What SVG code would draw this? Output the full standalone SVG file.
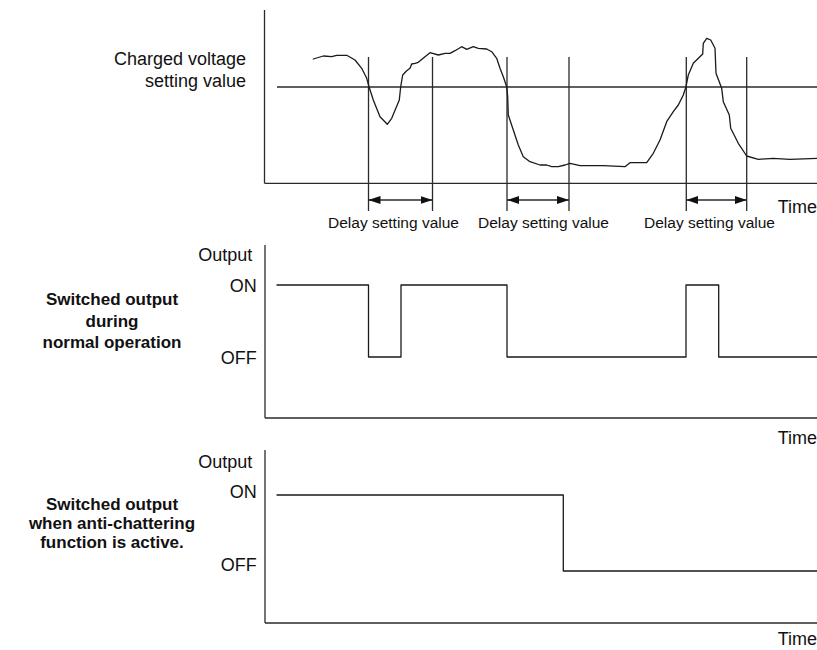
<svg xmlns="http://www.w3.org/2000/svg" width="817" height="650" viewBox="0 0 817 650">
<defs>
<style>
.ax{stroke:#2a2a2a;stroke-width:1.3;fill:none}
.wf{stroke:#1a1a1a;stroke-width:1.3;fill:none;stroke-linejoin:round;stroke-linecap:round}
.t{font-family:"Liberation Sans",Arial,Helvetica,sans-serif;font-size:18px;fill:#111}
.s{font-size:15.5px}
.b{font-weight:bold;font-size:17px}
.r{text-anchor:end}
.m{text-anchor:middle}
</style>
<marker id="ah" viewBox="0 0 12 8" refX="12" refY="4" markerWidth="12" markerHeight="8" markerUnits="userSpaceOnUse" orient="auto-start-reverse">
<path d="M0,0 L12,4 L0,8 Z" fill="#111"/>
</marker>
</defs>
<rect width="817" height="650" fill="#fff"/>

<g id="chart-voltage">
<line class="ax" x1="264.5" y1="10" x2="264.5" y2="183.3"/>
<line class="ax" x1="264.5" y1="183.3" x2="817" y2="183.3"/>
<line class="ax" x1="277" y1="87" x2="817" y2="87"/>
<line class="ax" x1="368.5" y1="57" x2="368.5" y2="211"/>
<line class="ax" x1="432.5" y1="57" x2="432.5" y2="211"/>
<line class="ax" x1="507" y1="57" x2="507" y2="211"/>
<line class="ax" x1="569" y1="57" x2="569" y2="211"/>
<line class="ax" x1="686.3" y1="57" x2="686.3" y2="211"/>
<line class="ax" x1="746.7" y1="57" x2="746.7" y2="211"/>
<polyline class="wf" points="313.3,59 323.3,56 331.7,56.7 336.7,55.3 346.7,55.3 355,60 361.7,68.3 366.7,78.3 369,86.7 373.3,100 380,116.7 387.3,124.3 391.7,118.3 399.3,100 400.7,86.7 402.7,75 406.7,70.7 410,68.3 411.7,64 415,63.3 418.3,62.3 425,56.7 430,52.7 438.3,55 445,53.3 450,53.3 455,50.7 461.7,46.7 466.7,49.3 473.3,46.7 478.3,48.3 486.7,49 491.7,51.7 496.7,58.3 500,68.3 503.3,76.7 506.7,86.7 507.7,96.7 508.3,115 513.3,130 518.3,145 523.3,156.7 530,161.7 540,165 546.7,165 551.7,166.7 558.3,166.7 565,165 570,163.3 580,165.7 603.3,165.7 625,166.7 630,162.7 646.7,162.7 653.3,153.3 660,140 666.7,121.7 673.3,111.7 678.3,105 683.3,95 686,86.7 688.3,75 693.3,63.3 702.7,54 703.3,43.3 706.7,38.3 710.7,40 715,48.3 716,73.3 721.7,88.3 723.3,101.7 729.3,115 730.7,128.3 738.3,143.3 746.7,156 758.3,159.3 773.3,158.3 790,159.3 817,158.3"/>
<text class="t r" x="246" y="65">Charged voltage</text>
<text class="t r" x="246" y="87">setting value</text>
<text class="t r" x="817" y="213">Time</text>
<text class="t s" x="328" y="228">Delay setting value</text>
<text class="t s" x="478" y="228">Delay setting value</text>
<text class="t s" x="644" y="228">Delay setting value</text>
</g>

<g id="connectors">
<line class="ax" x1="368.5" y1="200" x2="432.5" y2="200" marker-start="url(#ah)" marker-end="url(#ah)"/>
<line class="ax" x1="507" y1="200" x2="569" y2="200" marker-start="url(#ah)" marker-end="url(#ah)"/>
<line class="ax" x1="686.3" y1="200" x2="746.7" y2="200" marker-start="url(#ah)" marker-end="url(#ah)"/>
</g>

<g id="chart-normal">
<line class="ax" x1="265" y1="245" x2="265" y2="418"/>
<line class="ax" x1="265" y1="418" x2="817" y2="418"/>
<polyline class="wf" points="277,285 368.5,285 368.5,357 401,357 401,285 507,285 507,357 686,357 686,285 718.7,285 718.7,357 817,357"/>
<text class="t r" x="252.3" y="261">Output</text>
<text class="t r" x="256.7" y="291.7">ON</text>
<text class="t r" x="256.7" y="364">OFF</text>
<text class="t r" x="817" y="443.5">Time</text>
<text class="t b m" x="112" y="305">Switched output</text>
<text class="t b m" x="112" y="327">during</text>
<text class="t b m" x="112" y="348">normal operation</text>
</g>

<g id="chart-antichatter">
<line class="ax" x1="265" y1="450" x2="265" y2="623"/>
<line class="ax" x1="265" y1="623" x2="817" y2="623"/>
<polyline class="wf" points="277,495 563.3,495 563.3,571 817,571"/>
<text class="t r" x="252.3" y="468">Output</text>
<text class="t r" x="256.7" y="498.3">ON</text>
<text class="t r" x="256.7" y="570.7">OFF</text>
<text class="t r" x="817" y="645">Time</text>
<text class="t b m" x="112" y="510">Switched output</text>
<text class="t b m" x="112" y="529">when anti-chattering</text>
<text class="t b m" x="112" y="548">function is active.</text>
</g>
</svg>
